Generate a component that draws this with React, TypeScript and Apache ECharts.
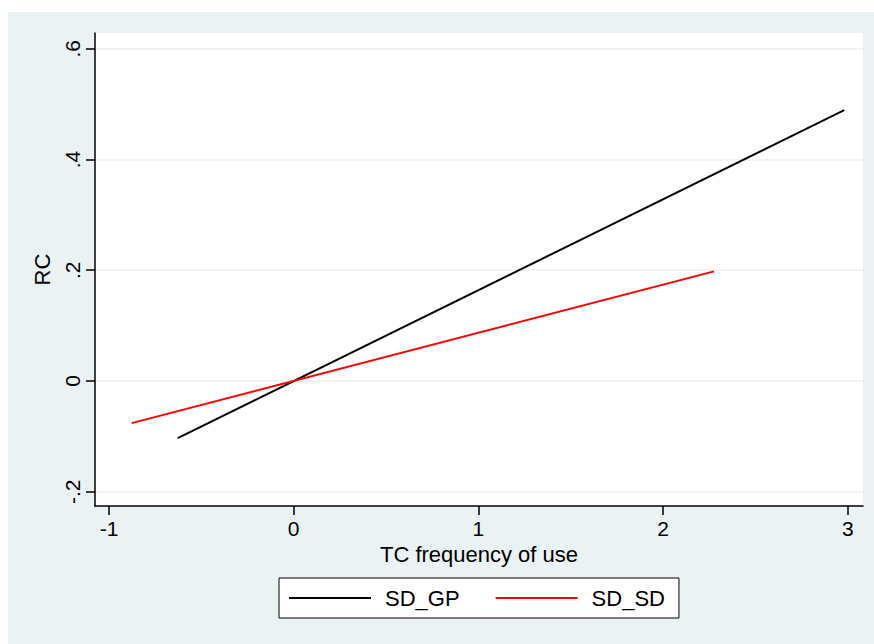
import React, { useEffect, useRef } from "react";
import * as echarts from "echarts";

const seriesNames = ["SD_GP", "SD_SD"];
const gpData: [number, number][] = [
  [-0.628, -0.103],
  [2.981, 0.489],
];
const sdData: [number, number][] = [
  [-0.877, -0.076],
  [2.276, 0.198],
];
const xTicks = [-1, 0, 1, 2, 3];
const yTicks = [-0.2, 0, 0.2, 0.4, 0.6];
const yTickLabels = ["-.2", "0", ".2", ".4", ".6"];

const FONT = "'Liberation Sans', Arial, Helvetica, sans-serif";

export default function App() {
  const ref = useRef<HTMLDivElement>(null);
  useEffect(() => {
    if (!ref.current) return;
    const chart = echarts.init(ref.current, undefined, { renderer: "svg" });
    chart.setOption({
      animation: false,
      backgroundColor: "#ffffff",
      textStyle: { fontFamily: FONT },
      graphic: [
        {
          type: "rect",
          z: -10,
          silent: true,
          shape: { x: 8, y: 12, width: 866, height: 632 },
          style: { fill: "#eaf2f3" },
        },
        {
          type: "rect",
          z: -5,
          silent: true,
          shape: { x: 95, y: 33, width: 768, height: 473 },
          style: { fill: "#ffffff" },
        },
      ],
      grid: { left: 95, right: 11, top: 33, bottom: 138, containLabel: false },
      xAxis: {
        type: "value",
        min: -1.0758,
        max: 3.0826,
        name: "TC frequency of use",
        nameLocation: "middle",
        nameGap: 35,
        nameTextStyle: { fontSize: 22, color: "#000", fontFamily: FONT },
        axisLine: { show: true, onZero: false, lineStyle: { color: "#000", width: 1.5 } },
        axisTick: { show: true, length: 9, customValues: xTicks, lineStyle: { color: "#000", width: 1.5 } },
        axisLabel: {
          customValues: xTicks,
          fontSize: 21,
          color: "#000",
          margin: 12,
          fontFamily: FONT,
          formatter: (v: number) => String(v),
        },
        splitLine: { show: false },
      },
      yAxis: {
        type: "value",
        min: -0.2257,
        max: 0.6284,
        name: "RC",
        nameLocation: "middle",
        nameGap: 42,
        nameRotate: 90,
        nameTextStyle: { fontSize: 22, color: "#000", fontFamily: FONT },
        axisLine: { show: true, onZero: false, lineStyle: { color: "#000", width: 1.5 } },
        axisTick: { show: true, length: 9, customValues: yTicks, lineStyle: { color: "#000", width: 1.5 } },
        axisLabel: {
          customValues: yTicks,
          rotate: 90,
          fontSize: 21,
          color: "#000",
          margin: 12,
          fontFamily: FONT,
          formatter: (v: number) => {
            const i = yTicks.findIndex((t) => Math.abs(t - v) < 1e-6);
            return i >= 0 ? yTickLabels[i] : "";
          },
        },
        splitLine: { show: true, lineStyle: { color: "#eaf2f3", width: 1.5 } },
      },
      legend: {
        data: seriesNames,
        left: 279,
        top: 578,
        width: 420,
        padding: [8, 14, 8, 10],
        itemGap: 36,
        itemWidth: 82,
        itemHeight: 2,
        icon: "rect",
        backgroundColor: "#ffffff",
        borderColor: "#000",
        borderWidth: 1,
        textStyle: { fontSize: 22, color: "#000", fontFamily: FONT, padding: [0, 0, 0, 9], lineHeight: 24 },
      },
      series: [
        {
          name: seriesNames[0],
          type: "line",
          data: gpData,
          showSymbol: false,
          symbol: "none",
          lineStyle: { color: "#000000", width: 2 },
          itemStyle: { color: "#000000" },
        },
        {
          name: seriesNames[1],
          type: "line",
          data: sdData,
          showSymbol: false,
          symbol: "none",
          lineStyle: { color: "#ff0000", width: 2 },
          itemStyle: { color: "#ff0000" },
        },
      ],
    });
    return () => chart.dispose();
  }, []);
  return (
    <div
      ref={ref}
      style={{ position: "absolute", left: 0, top: 0, width: 874, height: 644 }}
    />
  );
}
